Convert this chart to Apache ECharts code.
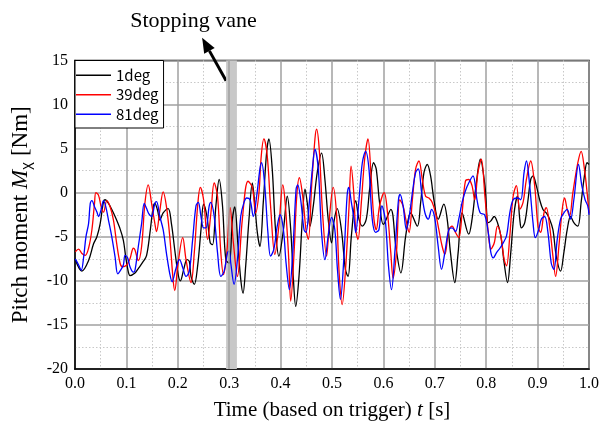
<!DOCTYPE html>
<html><head><meta charset="utf-8">
<script src="https://cdn.jsdelivr.net/npm/echarts@6/dist/echarts.min.js"></script>
<style>html,body{margin:0;padding:0;background:#fff}#c{width:602px;height:426px}</style>
</head><body><div id="c"></div>
<script>
// ---- data ----
const seriesNames = ['1deg', '39deg', '81deg'];
const xTicks = [0, 0.1, 0.2, 0.3, 0.4, 0.5, 0.6, 0.7, 0.8, 0.9, 1.0];
const yTicks = [-20, -15, -10, -5, 0, 5, 10, 15];
const vaneStart = 0.294, vaneEnd = 0.315, vaneLine = 0.3;

const t1deg = [0.000,0.0135,0.0264,0.0361,0.0426,0.049,0.0555,0.0587,0.0651,0.0716,0.078,0.0877,0.0941,0.0987,0.1038,0.107,0.1167,0.1232,0.1328,0.1393,0.1457,0.1522,0.1554,0.1606,0.1651,0.1715,0.1812,0.1876,0.1941,0.2005,0.205,0.2115,0.2179,0.2224,0.2257,0.2321,0.2386,0.2451,0.2502,0.2567,0.2631,0.2676,0.2741,0.2805,0.287,0.2934,0.2999,0.3063,0.3108,0.3172,0.3224,0.3269,0.3321,0.3385,0.345,0.3495,0.3547,0.3598,0.3663,0.3727,0.3772,0.3837,0.3901,0.3966,0.4055,0.413,0.4197,0.4249,0.4294,0.4358,0.4423,0.4475,0.4526,0.4571,0.4636,0.4713,0.4797,0.4862,0.4926,0.4991,0.5035,0.510,0.5183,0.5261,0.5312,0.5377,0.5461,0.5525,0.559,0.5667,0.5732,0.5809,0.586,0.5925,0.600,0.6145,0.6242,0.634,0.6434,0.6531,0.666,0.6725,0.679,0.6854,0.6918,0.6983,0.7067,0.7176,0.7241,0.7305,0.7389,0.7454,0.7531,0.766,0.7725,0.7802,0.7886,0.7975,0.804,0.8091,0.8156,0.822,0.8285,0.835,0.8414,0.8478,0.8543,0.8608,0.8653,0.8685,0.875,0.8814,0.8866,0.8911,0.8975,0.904,0.9104,0.9169,0.9234,0.9298,0.9363,0.9447,0.9511,0.9576,0.9641,0.9705,0.9783,0.9847,0.9911,0.9963,1.0];
const v1deg = [-7.5,-8.9,-7.7,-5.8,-5.0,-3.5,-1.0,-0.8,-1.2,-1.9,-2.7,-4.1,-5.4,-7.3,-9.0,-9.4,-9.1,-8.6,-7.8,-7.1,-4.6,-1.6,-1.2,-2.0,-3.1,-2.3,-1.8,-3.5,-6.5,-9.2,-10.0,-8.7,-7.6,-7.8,-9.5,-10.4,-8.3,-4.2,-1.3,-2.7,-5.7,-5.9,-1.5,1.5,-1.5,-7.6,-8.0,-3.0,-1.6,-6.1,-9.8,-11.4,-8.3,-3.0,1.1,-1.1,-4.5,-6.1,-1.1,4.5,6.1,2.7,-4.2,-7.2,-4.2,-0.4,-4.2,-9.8,-12.9,-9.5,-3.0,0.4,-1.5,-3.8,-1.5,2.3,4.5,1.5,-3.0,-5.7,-3.4,-1.8,-4.2,-8.7,-9.5,-4.9,-0.9,-3.0,-3.8,-3.0,0.4,3.4,2.7,-1.1,-3.6,-1.9,-6.1,-9.1,-4.9,-2.3,-3.8,-1.1,2.3,3.2,1.9,-0.8,-3.0,-1.3,-3.0,-6.8,-10.2,-6.8,-2.3,-4.7,-3.0,0.8,3.8,0.8,-3.4,-3.2,-2.7,-3.4,-4.9,-8.0,-10.2,-6.8,-2.3,-0.4,-3.0,-4.0,-3.4,-0.8,1.5,1.9,0.8,-0.8,-1.9,-2.3,-3.0,-4.2,-7.2,-8.9,-6.8,-4.2,-2.7,-3.4,-3.8,-1.1,1.9,3.4,3.2];

const t39deg = [0.0006,0.0071,0.0135,0.02,0.0264,0.0329,0.038,0.0406,0.0458,0.0509,0.0555,0.0619,0.0683,0.0748,0.0812,0.0877,0.0922,0.1006,0.107,0.1135,0.1167,0.1232,0.1296,0.136,0.1425,0.149,0.1554,0.1586,0.1651,0.1715,0.178,0.1844,0.1909,0.1941,0.1999,0.2096,0.216,0.2257,0.2321,0.2386,0.2438,0.2502,0.258,0.2644,0.2708,0.2773,0.2837,0.2889,0.2954,0.3018,0.3082,0.316,0.3256,0.3366,0.345,0.3514,0.3579,0.3624,0.3675,0.374,0.3805,0.3888,0.3966,0.4043,0.4088,0.4152,0.4197,0.4262,0.4314,0.4365,0.443,0.4494,0.454,0.4604,0.4668,0.47,0.4752,0.4816,0.4894,0.4958,0.5023,0.5087,0.5139,0.5197,0.5268,0.5332,0.5371,0.5423,0.5461,0.5506,0.5571,0.5635,0.57,0.5764,0.5816,0.5861,0.5925,0.6015,0.608,0.6144,0.6189,0.6254,0.6319,0.6383,0.6435,0.6499,0.6564,0.6628,0.6692,0.6757,0.6821,0.6886,0.695,0.7015,0.7079,0.7144,0.7195,0.7273,0.7337,0.7402,0.7466,0.7531,0.7595,0.766,0.7724,0.7776,0.784,0.7905,0.7975,0.804,0.8091,0.8156,0.822,0.8285,0.835,0.8395,0.8459,0.8524,0.8588,0.8653,0.8717,0.8782,0.8866,0.8943,0.9008,0.9059,0.9124,0.9169,0.9234,0.9298,0.935,0.9414,0.9479,0.9524,0.9576,0.9621,0.9686,0.9783,0.9847,0.9911,0.9963,1.0];
const v39deg = [-6.7,-6.4,-6.9,-7.1,-6.3,-4.2,-1.2,0.0,-0.3,-1.6,-2.2,-0.9,-1.6,-3.1,-5.8,-8.0,-8.4,-8.2,-7.5,-6.3,-6.5,-7.7,-6.1,-1.2,0.9,-1.2,-3.5,-4.4,-2.0,0.1,-1.6,-5.0,-9.9,-11.1,-8.3,-5.1,-7.6,-10.2,-6.8,-1.5,0.6,-0.8,-5.3,-2.3,1.1,-0.4,-6.8,-9.3,-6.8,-1.7,-5.7,-9.5,-3.0,1.3,0.6,-2.3,0.0,4.2,6.1,4.2,-1.5,-7.0,-3.8,0.9,-1.1,-6.8,-12.3,-6.8,-0.4,1.7,-0.4,-4.2,-5.3,0.8,6.1,7.2,4.9,-2.3,-7.2,-2.3,0.6,-2.3,-9.1,-12.7,-8.3,-1.5,3.0,0.0,-4.2,-5.3,-1.1,3.8,6.1,1.5,-3.0,-4.2,-1.5,0.0,-2.3,-6.8,-9.7,-6.8,-0.8,-1.5,-3.0,-4.5,-0.8,2.7,3.6,1.5,-0.4,-0.6,-1.1,-2.3,-4.2,-6.1,-7.0,-4.2,-3.8,-4.5,-5.1,-2.3,1.3,1.5,0.8,-0.8,2.3,3.8,-0.4,-4.5,-6.4,-5.7,-3.8,-4.9,-7.6,-8.3,-4.9,-0.4,0.8,-1.9,-1.1,1.5,3.6,0.8,-3.8,-4.5,-2.3,-1.7,-3.8,-7.2,-9.5,-6.1,-1.9,-0.6,-1.9,-2.7,0.0,3.4,4.7,2.7,0.0,-2.3];

const t81deg = [0.0006,0.0071,0.0122,0.0168,0.0213,0.0264,0.0297,0.0329,0.038,0.0426,0.0458,0.0509,0.0555,0.06,0.0651,0.0716,0.078,0.0832,0.0896,0.0941,0.0974,0.1025,0.107,0.1135,0.1167,0.1232,0.1296,0.1347,0.1393,0.1438,0.149,0.1554,0.1586,0.1651,0.1715,0.178,0.1844,0.1889,0.1954,0.2005,0.2031,0.2096,0.216,0.2224,0.2289,0.2354,0.2399,0.2451,0.2502,0.2547,0.2611,0.2644,0.2708,0.2773,0.2837,0.2902,0.2966,0.2999,0.3031,0.3095,0.316,0.3224,0.3288,0.334,0.3405,0.3469,0.3534,0.3598,0.363,0.3688,0.3753,0.3805,0.3869,0.3934,0.3991,0.4055,0.4107,0.4171,0.4236,0.4301,0.4333,0.4391,0.4456,0.4494,0.4559,0.4623,0.4668,0.4733,0.4797,0.4862,0.4926,0.4991,0.5055,0.5106,0.5164,0.5229,0.5293,0.5326,0.5377,0.5429,0.5461,0.5525,0.559,0.5655,0.5719,0.5783,0.5848,0.5913,0.597,0.6035,0.6099,0.6157,0.6222,0.6293,0.6325,0.6383,0.6448,0.6512,0.6564,0.6628,0.668,0.6744,0.6809,0.6873,0.6938,0.7002,0.7066,0.7131,0.7195,0.7273,0.7337,0.7402,0.7466,0.7531,0.7595,0.766,0.7743,0.7821,0.7885,0.7969,0.804,0.8091,0.8137,0.8201,0.8266,0.833,0.8395,0.8459,0.8524,0.8608,0.8672,0.8737,0.8782,0.8846,0.8911,0.8956,0.9021,0.9072,0.9137,0.9201,0.9266,0.9317,0.9382,0.9447,0.9511,0.9576,0.9641,0.9705,0.9796,0.986,0.9924,0.9976,1.0];
const v81deg = [-7.5,-8.2,-8.8,-7.3,-5.0,-3.5,-1.2,-0.9,-1.6,-2.2,-2.7,-1.9,-0.9,-1.6,-3.1,-5.0,-7.3,-9.2,-8.7,-8.2,-7.1,-7.4,-8.4,-9.0,-8.8,-6.1,-3.5,-1.2,-1.8,-2.4,-2.7,-1.2,-1.0,-2.7,-4.2,-6.9,-9.2,-10.1,-8.8,-7.8,-7.6,-8.5,-9.5,-8.9,-5.3,-1.5,-1.1,-2.7,-4.0,-4.0,-1.5,-1.1,-2.7,-6.8,-9.5,-8.9,-6.8,-6.6,-8.0,-10.4,-7.6,-2.7,-1.1,-0.6,-0.8,-2.7,-0.4,2.7,3.4,1.1,-4.5,-7.2,-6.4,-3.8,-2.5,-4.2,-8.0,-11.0,-6.8,0.4,0.9,-0.8,-4.2,-4.5,-1.1,3.0,4.9,2.7,-4.5,-7.6,-4.9,-2.8,-4.2,-8.7,-12.1,-7.6,-0.4,0.6,-1.1,-3.0,-4.5,-0.8,3.4,4.7,2.7,-3.0,-4.5,-4.2,-1.5,-3.0,-8.3,-11.0,-6.8,-0.8,-0.2,-1.5,-4.2,-2.3,0.0,2.3,2.7,0.0,-2.3,-3.0,-1.9,-3.0,-6.1,-8.7,-6.8,-4.2,-4.0,-4.4,-3.0,-1.1,0.2,1.1,1.9,-0.8,-2.3,-2.5,-4.5,-6.8,-7.4,-6.8,-6.3,-5.7,-4.9,-2.3,-0.8,-0.6,-0.8,2.3,3.6,0.8,-3.4,-5.1,-4.2,-3.0,-2.7,-4.5,-8.0,-8.7,-5.3,-3.0,-2.3,-1.9,-3.0,-0.8,3.2,0.8,-0.8,-1.5,-2.5];

const zip = (t, v) => t.map((x, i) => [x, v[i]]);
const colors = ['#000000', '#ff0000', '#0000ff'];
const serif = 'Liberation Serif';

const chart = echarts.init(document.getElementById('c'), null, {renderer: 'canvas'});
const lineSeries = [[t1deg, v1deg], [t39deg, v39deg], [t81deg, v81deg]].map((p, i) => ({
  name: seriesNames[i], type: 'line', data: zip(p[0], p[1]),
  symbol: 'none', smooth: 0.35, z: 3,
  lineStyle: {color: colors[i], width: 1.3}, itemStyle: {color: colors[i]}
}));

chart.setOption({
  animation: false,
  backgroundColor: '#fff',
  grid: {left: 75, right: 10, top: 60.5, bottom: 57, show: true, borderColor: '#000', borderWidth: 1.5, backgroundColor: 'transparent'},
  legend: {
    data: seriesNames.map(n => ({name: n, icon: 'rect'})),
    orient: 'vertical', left: 75, top: 60.5,
    backgroundColor: '#fff', borderColor: '#000', borderWidth: 1, borderRadius: 0,
    padding: [6, 5, 5, 1], itemWidth: 35, itemHeight: 1.5, itemGap: 2,
    textStyle: {fontFamily: 'Noto Sans CJK JP', fontSize: 15, color: '#000', lineHeight: 17.5}
  },
  xAxis: {
    type: 'value', min: xTicks[0], max: xTicks[xTicks.length - 1], interval: 0.1,
    axisLine: {show: true, onZero: false, lineStyle: {color: '#000', width: 1.5}},
    axisTick: {show: false},
    axisLabel: {formatter: v => v.toFixed(1), fontFamily: serif, fontSize: 16, color: '#000', margin: 7},
    splitLine: {show: true, lineStyle: {color: '#a0a0a0', width: 1.5}},
    minorTick: {show: false, splitNumber: 2},
    minorSplitLine: {show: true, lineStyle: {color: '#c8c8c8', width: 1, type: [1.5, 2]}},
    name: '{n|Time (based on trigger) }{i|t}{n| [s]}', nameLocation: 'middle', nameGap: 31,
    nameTextStyle: {rich: {
      n: {fontFamily: serif, fontSize: 21, color: '#000'},
      i: {fontFamily: serif, fontSize: 21, fontStyle: 'italic', color: '#000'}
    }}
  },
  yAxis: {
    type: 'value', min: yTicks[0], max: yTicks[yTicks.length - 1], interval: 5,
    axisLine: {show: true, onZero: false, lineStyle: {color: '#000', width: 1.5}},
    axisTick: {show: false},
    axisLabel: {fontFamily: serif, fontSize: 16, color: '#000', margin: 7},
    splitLine: {show: true, lineStyle: {color: '#a0a0a0', width: 1.5}},
    minorTick: {show: false, splitNumber: 2},
    minorSplitLine: {show: true, lineStyle: {color: '#c8c8c8', width: 1, type: [1.5, 2]}},
    name: '{n|Pitch moment }{i|M}{s|X}{n| [Nm]}', nameLocation: 'middle', nameGap: 37,
    nameTextStyle: {rich: {
      n: {fontFamily: serif, fontSize: 23, color: '#000', verticalAlign: 'middle', lineHeight: 30},
      i: {fontFamily: serif, fontSize: 23, fontStyle: 'italic', color: '#000', verticalAlign: 'middle', lineHeight: 30},
      s: {fontFamily: 'Noto Sans CJK JP', fontSize: 14, color: '#000', verticalAlign: 'bottom', lineHeight: 16}
    }}
  },
  series: [{
    name: 'vane', type: 'line', data: [], z: -1, silent: true,
    markArea: {silent: true, itemStyle: {color: '#c8c8c8'}, data: [[{xAxis: vaneStart}, {xAxis: vaneEnd}]]},
    markLine: {silent: true, symbol: 'none', label: {show: false}, lineStyle: {color: '#a0a0a0', width: 1.5, type: 'solid'}, data: [{xAxis: vaneLine}]}
  }].concat(lineSeries)
});

// annotation arrow pointing at the stopping vane band
const tip = chart.convertToPixel({gridIndex: 0}, [vaneStart, 12.7]);
const dx = -24, dy = -43, L = Math.hypot(dx, dy);
const ux = dx / L, uy = dy / L, px = -uy, py = ux;
const hx = tip[0] + dx, hy = tip[1] + dy;
const bx = hx - 15 * ux, by = hy - 15 * uy;
chart.setOption({
  graphic: [
    {type: 'text', x: 193.5, y: 21, style: {text: 'Stopping vane', font: '22px "Liberation Serif"', textAlign: 'center', textVerticalAlign: 'middle', fill: '#000'}},
    {type: 'line', shape: {x1: tip[0], y1: tip[1], x2: bx, y2: by}, style: {stroke: '#000', lineWidth: 3}},
    {type: 'polygon', shape: {points: [[hx, hy], [bx + 6 * px, by + 6 * py], [bx - 6 * px, by - 6 * py]]}, style: {fill: '#000'}}
  ]
});
</script></body></html>
